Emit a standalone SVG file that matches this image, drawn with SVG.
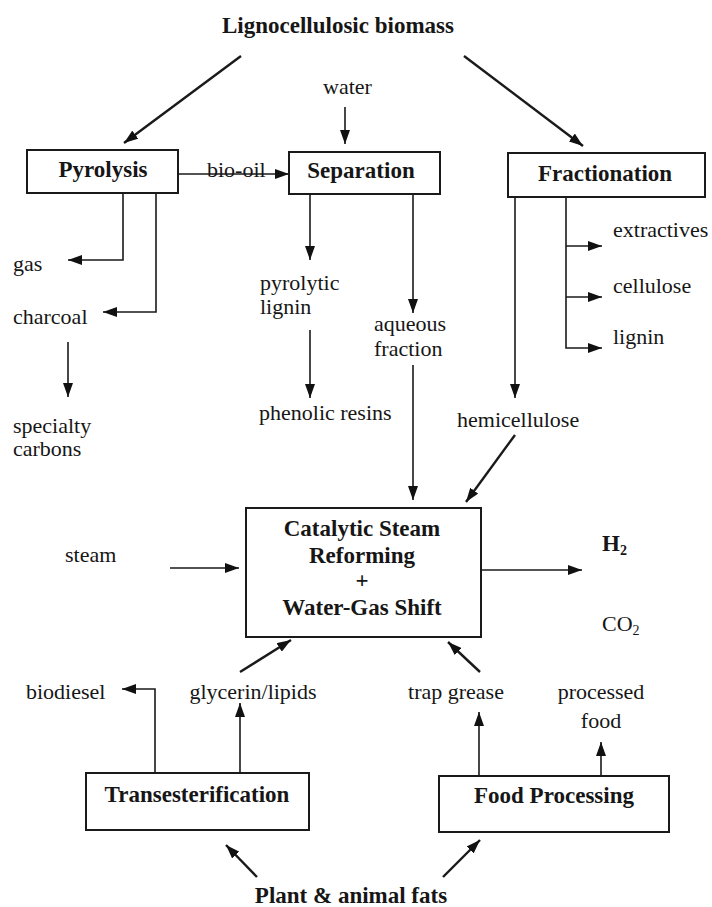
<svg xmlns="http://www.w3.org/2000/svg" width="712" height="907" viewBox="0 0 712 907">
<style>
text{font-family:"Liberation Serif","Times New Roman",serif;fill:#161616;font-size:22px}
.b{font-weight:bold;font-size:23px}
.m{text-anchor:middle}
.box{fill:#fff;stroke:#1a1a1a;stroke-width:2}
.c path{fill:none;stroke:#1a1a1a;stroke-width:1.6}
.c .d{stroke-width:2.4}
</style>
<defs>
<marker id="ah" viewBox="0 0 14 10" refX="14" refY="5" markerWidth="14" markerHeight="10" markerUnits="userSpaceOnUse" orient="auto">
<path d="M0,0 L14,5 L0,10 z" fill="#111"/>
</marker>
</defs>
<rect width="712" height="907" fill="#fff"/>

<g id="connectors" class="c">
<path class="d" d="M241,56 L124,143" marker-end="url(#ah)"/>
<path class="d" d="M464,56 L583,146" marker-end="url(#ah)"/>
<path d="M345,107 V144" marker-end="url(#ah)"/>
<path d="M178,174 H289" marker-end="url(#ah)"/>
<path d="M123,193 V260 H68" marker-end="url(#ah)"/>
<path d="M156,193 V312 H103" marker-end="url(#ah)"/>
<path d="M68,342 V397" marker-end="url(#ah)"/>
<path d="M310,194 V260" marker-end="url(#ah)"/>
<path d="M310,330 V398" marker-end="url(#ah)"/>
<path d="M413,194 V313" marker-end="url(#ah)"/>
<path d="M413,365 V500" marker-end="url(#ah)"/>
<path d="M515,197 V398" marker-end="url(#ah)"/>
<path d="M566,197 V348 H602" marker-end="url(#ah)"/>
<path d="M566,246 H602" marker-end="url(#ah)"/>
<path d="M566,297 H602" marker-end="url(#ah)"/>
<path class="d" d="M515,435 L466,502" marker-end="url(#ah)"/>
<path d="M170,568 H239" marker-end="url(#ah)"/>
<path d="M481,570 H582" marker-end="url(#ah)"/>
<path class="d" d="M240,672 L291,640" marker-end="url(#ah)"/>
<path class="d" d="M480,672 L448,642" marker-end="url(#ah)"/>
<path d="M155,773 V689 H122" marker-end="url(#ah)"/>
<path d="M240,773 V703" marker-end="url(#ah)"/>
<path d="M479,776 V712" marker-end="url(#ah)"/>
<path d="M601,776 V742" marker-end="url(#ah)"/>
<path class="d" d="M257,877 L226,845" marker-end="url(#ah)"/>
<path class="d" d="M443,877 L480,840" marker-end="url(#ah)"/>
</g>

<g id="lignocellulosic-biomass"><text class="b m" x="338" y="33">Lignocellulosic biomass</text></g>
<g id="water"><text x="323" y="94">water</text></g>
<g id="pyrolysis"><rect class="box" x="27" y="150" width="151" height="43"/><text class="b m" x="103" y="177">Pyrolysis</text></g>
<g id="bio-oil"><text x="207" y="177">bio-oil</text></g>
<g id="separation"><rect class="box" x="289" y="152" width="151" height="42"/><text class="b m" x="361" y="178">Separation</text></g>
<g id="fractionation"><rect class="box" x="508" y="153" width="197" height="44"/><text class="b m" x="605" y="181">Fractionation</text></g>
<g id="gas"><text x="13" y="271">gas</text></g>
<g id="charcoal"><text x="13" y="324">charcoal</text></g>
<g id="specialty-carbons"><text x="13" y="433">specialty</text><text x="13" y="456">carbons</text></g>
<g id="pyrolytic-lignin"><text x="260" y="290">pyrolytic</text><text x="260" y="314">lignin</text></g>
<g id="phenolic-resins"><text x="259" y="420">phenolic resins</text></g>
<g id="aqueous-fraction"><text x="374" y="331">aqueous</text><text x="374" y="356">fraction</text></g>
<g id="hemicellulose"><text x="457" y="427">hemicellulose</text></g>
<g id="extractives"><text x="613" y="237">extractives</text></g>
<g id="cellulose"><text x="613" y="293">cellulose</text></g>
<g id="lignin"><text x="613" y="344">lignin</text></g>
<g id="catalytic"><rect class="box" x="246" y="508" width="235" height="129"/>
<text class="b m" x="362" y="536">Catalytic Steam</text>
<text class="b m" x="362" y="563">Reforming</text>
<text class="b m" x="362" y="588">+</text>
<text class="b m" x="362" y="615">Water-Gas Shift</text></g>
<g id="steam"><text x="65" y="562">steam</text></g>
<g id="h2"><text class="b" x="602" y="551">H<tspan font-size="14" dy="4">2</tspan></text></g>
<g id="co2"><text x="602" y="631">CO<tspan font-size="14" dy="4">2</tspan></text></g>
<g id="biodiesel"><text x="26" y="699">biodiesel</text></g>
<g id="glycerin-lipids"><text class="m" x="253" y="699">glycerin/lipids</text></g>
<g id="trap-grease"><text class="m" x="456" y="699">trap grease</text></g>
<g id="processed-food"><text class="m" x="601" y="699">processed</text><text class="m" x="601" y="728">food</text></g>
<g id="transesterification"><rect class="box" x="86" y="773" width="223" height="57"/><text class="b m" x="197" y="802">Transesterification</text></g>
<g id="food-processing"><rect class="box" x="439" y="776" width="230" height="56"/><text class="b m" x="554" y="803">Food Processing</text></g>
<g id="plant-animal-fats"><text class="b m" x="351" y="903">Plant &amp; animal fats</text></g>
</svg>
